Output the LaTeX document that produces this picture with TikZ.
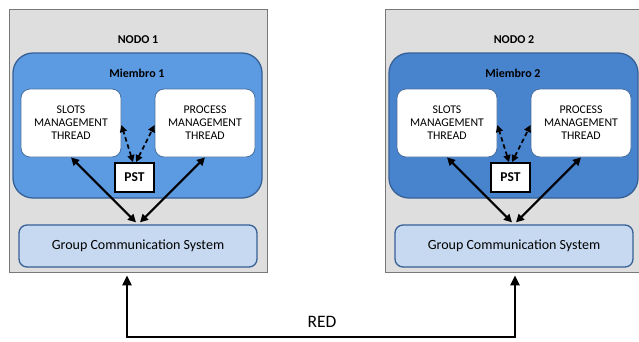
\documentclass[tikz,border=0pt]{standalone}
\usepackage{fontspec}
\setmainfont{Carlito}
\usetikzlibrary{arrows.meta,positioning}
\definecolor{nodogray}{RGB}{222,222,222}
\definecolor{nodoedge}{RGB}{120,120,120}
\definecolor{miembroA}{RGB}{92,155,226}
\definecolor{miembroB}{RGB}{72,131,206}
\definecolor{miembroedge}{RGB}{54,96,150}
\definecolor{threadedge}{RGB}{70,110,160}
\definecolor{gcsfill}{RGB}{198,217,241}
\tikzset{
  % Cajas
  nodobox/.style    = {draw=nodoedge, fill=nodogray, line width=0.8pt, inner sep=0pt},
  miembrobox/.style = {draw=miembroedge, line width=1.3pt, rounded corners=20pt, inner sep=0pt,
                       minimum width=249pt, minimum height=145pt},
  threadbox/.style  = {draw=threadedge, fill=white, line width=0.8pt, rounded corners=9pt,
                       minimum width=100pt, minimum height=68pt, align=center,
                       font=\fontsize{11.8}{13}\selectfont},
  pstbox/.style     = {draw=black, fill=white, line width=1.8pt, minimum width=39pt,
                       minimum height=29pt, inner sep=0pt, font=\fontsize{13.5}{15}\selectfont\bfseries},
  gcsbox/.style     = {draw=miembroedge, fill=gcsfill, line width=1.3pt, rounded corners=8pt,
                       minimum width=238pt, minimum height=42pt, font=\fontsize{14}{16}\selectfont},
  % Etiquetas
  titlelab/.style   = {font=\fontsize{12}{14}\selectfont\bfseries, inner sep=1pt},
  redlab/.style     = {font=\fontsize{17.5}{19}\selectfont, inner sep=1pt},
  % Flechas
  dblarrow/.style   = {{Triangle[length=8pt,width=8pt]}-{Triangle[length=8pt,width=8pt]}, line width=2pt},
  dasharrow/.style  = {{Triangle[length=7pt,width=7pt]}-{Triangle[length=7pt,width=7pt]}, line width=1.7pt,
                       dash pattern=on 4.5pt off 3pt},
  netarrow/.style   = {{Triangle[length=10pt,width=9pt]}-{Triangle[length=10pt,width=9pt]}, line width=2.6pt},
}
\begin{document}
\begin{tikzpicture}[x=1pt,y=-1pt]
  \useasboundingbox (0,0) rectangle (639,341);
  \clip (0,0) rectangle (639,341);
  % Nodos
  \foreach \i/\dx/\mcol in {1/0/miembroA,2/376/miembroB}{
    \begin{scope}[xshift=\dx pt]
      \node[nodobox, minimum width=258pt, minimum height=263pt] (nodo\i) at (138,140.5) {};
      \node[titlelab] (titulo\i) at (138,40) {NODO \i};
      \node[miembrobox, fill=\mcol] (miembro\i) at (137.5,125.5) {};
      \node[titlelab] (nombre\i) at (137,73) {Miembro \i};
      \node[threadbox] (slots\i) at (71,123) {SLOTS\\MANAGEMENT\\THREAD};
      \node[threadbox] (proc\i) at (205,123) {PROCESS\\MANAGEMENT\\THREAD};
      \node[pstbox] (pst\i) at (134.5,177.5) {PST};
      \node[gcsbox] (gcs\i) at (138,246) {Group Communication System};
      % Conexiones
      \draw[dblarrow] (slots\i.south) -- ([xshift=-2pt,yshift=2pt]gcs\i.north);
      \draw[dblarrow] (proc\i.south) -- ([xshift=2pt,yshift=2pt]gcs\i.north);
      \draw[dasharrow] ([xshift=-1.5pt]pst\i.north) -- ([yshift=-2pt]slots\i.east);
      \draw[dasharrow] ([xshift=1.5pt]pst\i.north) -- ([yshift=-2pt]proc\i.west);
    \end{scope}
  }
  % Red
  \coordinate (redline) at (322,337);
  \node[redlab] (red) at (322,322) {RED};
  \draw[netarrow] ([xshift=-11pt,yshift=-3pt]nodo1.south) |- (redline) -| ([xshift=1pt,yshift=-3pt]nodo2.south);
\end{tikzpicture}
\end{document}
